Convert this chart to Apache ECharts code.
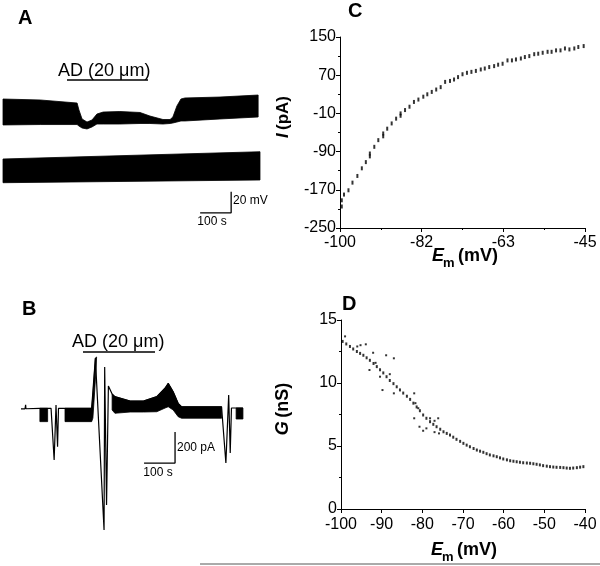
<!DOCTYPE html>
<html><head><meta charset="utf-8">
<script src="https://cdn.jsdelivr.net/npm/echarts@6/dist/echarts.min.js"></script>
<style>html,body{margin:0;padding:0;background:#fff}#c{width:600px;height:566px}</style>
</head><body><div id="c"></div>
<script>
// ---------- Panel A (time in s, potential in mV offset) ----------
const aTopT  = [0,120,239,245,255,271,287,303,323,377,442,474,516,539,548,561,574,587,700,823];
const aTopHi = [111.4,110.5,107.6,101,92.4,89.5,91.4,97.1,99,99.5,98.6,95.2,91.9,91.9,94.3,104.8,111.4,112.4,113.3,115.2];
const aTopLo = [86.7,87.1,87.1,85.7,83.8,82.9,84.8,87.6,87.6,87.6,88.1,88.1,87.6,88.1,88.6,89.5,90.5,90.5,92.4,94.3];
const aBotT  = [0,829];
const aBotHi = [54.3,61.2];
const aBotLo = [31.7,34.3];
const aScaleT = [636,736,736];
const aScaleV = [3,3,23];

// ---------- Panel B (time in s, current in pA) ----------
const bLineT = [58,71,73,74,119,155,165,171,176,179,200,286,298,302,326,328,334,340,352,361,410,453,496,523,533,549,565,576,705,706,719,728,733,737,774];
const bLineI = [-5,-5,20,-5,-3,-2,-335,20,-250,-2,-2,-2,323,329,-787,265,-626,142,90,73,45,45,73,129,159,105,30,8,8,0,-355,84,-290,0,0];
const bBand1T = [119,144], bBand1Hi = [-2,-2], bBand1Lo = [-88,-88];
const bBand2T = [200,286,290,298,302], bBand2Hi = [-2,-2,84,323,329], bBand2Lo = [-88,-88,-65,181,329];
const bBand3T = [352,361,410,453,496,523,533,549,565,576,705];
const bBand3Hi = [90,73,45,45,73,129,159,105,30,8,8];
const bBand3Lo = [-13,-34,-26,-26,-24,0,8,-13,-56,-66,-66];
const bBand4T = [752,774], bBand4Hi = [0,0], bBand4Lo = [-71,-71];
const bScaleT = [455,555,555];
const bScaleI = [-355,-355,-155];

// ---------- Panel C (I-V) ----------
const cEm = [-99.6,-99.6,-99.1,-98.1,-97.2,-96.1,-95.1,-94.2,-93.3,-93.3,-92.3,-91.4,-90.3,-90.3,-89.4,-88.4,-87.4,-86.4,-86.4,-85.4,-84.4,-83.4,-82.4,-81.3,-80.4,-79.4,-78.4,-77.4,-76.4,-75.3,-74.4,-73.5,-72.5,-71.5,-70.5,-69.5,-68.4,-67.5,-66.5,-65.4,-64.5,-63.5,-62.4,-61.4,-60.5,-59.4,-58.5,-57.5,-56.4,-55.5,-54.5,-53.4,-52.5,-51.5,-50.5,-49.5,-48.5,-47.4,-46.5,-45.3];
const cI  = [-192,-205,-180,-171,-155,-141,-125,-112,-94,-100,-80,-66,-52,-58,-42,-31,-21,-10,-15,-3,4,14,19,25,30,35,40,45,56,58,61,66,72,75,77,79,82,84,87,89,92,94,101,101,103,105,108,110,114,115,117,119,119,122,122,126,124,126,129,131];
const cXTicks = [-100,-81.667,-63.333,-45];
const cXMinor = [-90.833,-72.5,-54.167];
const cYTicks = [-250,-170,-90,-10,70,150];
const cYMinor = [-210,-130,-50,30,110];

// ---------- Panel D (G-V) ----------
const dEm = [-99.6,-98.7,-97.8,-97,-96.1,-95.3,-94.5,-93.7,-92.9,-92,-91.2,-90.4,-89.6,-88.8,-88,-87.1,-86.3,-85.5,-84.7,-83.8,-83,-82.2,-81.4,-80.6,-79.8,-79,-78.1,-77.3,-76.5,-75.6,-74.8,-74,-73.2,-72.4,-71.6,-70.7,-69.9,-69.1,-68.3,-67.4,-66.6,-65.8,-65,-64.2,-63.4,-62.5,-61.7,-60.9,-60.1,-59.2,-58.4,-57.6,-56.8,-56,-55.2,-54.3,-53.5,-52.7,-51.9,-51.1,-50.3,-49.4,-48.6,-47.8,-47,-46.1,-45.3,-44.5,-43.7,-42.9,-42,-41.2,-40.4];
const dG  = [13.3,13.1,12.9,12.7,12.5,12.35,12.2,12.0,11.8,11.55,11.3,11.05,10.8,10.5,10.2,9.95,9.7,9.45,9.2,8.95,8.7,8.4,8.1,7.8,7.46,7.2,6.93,6.72,6.53,6.33,6.13,6.0,5.87,5.7,5.53,5.37,5.21,5.07,4.94,4.8,4.68,4.59,4.5,4.39,4.29,4.22,4.15,4.06,3.97,3.9,3.83,3.79,3.75,3.71,3.67,3.65,3.63,3.59,3.55,3.5,3.44,3.4,3.36,3.33,3.31,3.3,3.28,3.25,3.23,3.25,3.28,3.32,3.36];
const dOutEm = [-99,-96,-95.2,-93.9,-92.1,-93,-91.5,-90.4,-88.9,-89.8,-87,-87,-88,-82,-82,-80.7,-79.8,-79,-78.1,-77,-76.1,-75.9,-77,-81,-81.7];
const dOutG  = [13.7,12.9,13.0,13.07,12.4,11.03,11.6,10.5,12.2,9.44,11.96,9.18,10.7,9.18,7.2,6.53,6.21,6.4,7.2,7.0,7.2,6.0,6.1,8.0,8.4];

const FONT = "'Liberation Sans', Arial, Helvetica, sans-serif";
const zip = (a, b) => a.map((v, i) => [v, b[i]]);

function band(axis, t, hi, lo) {
  return {
    type: 'custom', xAxisIndex: axis, yAxisIndex: axis, silent: true, animation: false,
    data: [[t[0], hi[0]]],
    renderItem: function (params, api) {
      const pts = [];
      for (let i = 0; i < t.length; i++) pts.push(api.coord([t[i], hi[i]]));
      for (let i = t.length - 1; i >= 0; i--) pts.push(api.coord([t[i], lo[i]]));
      return { type: 'polygon', shape: { points: pts }, style: { fill: '#000', stroke: '#000', lineWidth: 0.8 } };
    }
  };
}
function line(axis, t, v, w) {
  return { type: 'line', xAxisIndex: axis, yAxisIndex: axis, data: zip(t, v), symbol: 'none', clip: false,
    animation: false, silent: true, lineStyle: { color: '#000', width: w } };
}
const hiddenX = (g, min, max) => ({ gridIndex: g, type: 'value', min, max, show: false });
const hiddenY = (g, min, max) => ({ gridIndex: g, type: 'value', min, max, show: false });
const axLine = { show: true, onZero: false, lineStyle: { color: '#000', width: 1 } };
const noLine = { show: false, onZero: false };
const lbl = (m) => ({ color: '#000', fontSize: 16, fontFamily: FONT, margin: m });

const option = {
  backgroundColor: '#fff',
  animation: false,
  grid: [
    { left: 3, top: 90, width: 263.5, height: 126 },
    { left: 3, top: 338.25, width: 263.5, height: 201.5 },
    { left: 340, top: 37, width: 245, height: 191 },
    { left: 341, top: 320, width: 244, height: 189 }
  ],
  xAxis: [
    hiddenX(0, 0, 850),
    hiddenX(1, 0, 850),
    { gridIndex: 2, type: 'value', min: -100, max: -45, position: 'bottom', axisLine: axLine,
      axisTick: { show: true, length: 4, customValues: cXTicks, lineStyle: { color: '#000' } },
      axisLabel: Object.assign(lbl(7), { customValues: cXTicks, formatter: v => String(Math.round(v)) }),
      splitLine: { show: false } },
    { gridIndex: 3, type: 'value', min: -100, max: -40, interval: 10, position: 'bottom', axisLine: axLine,
      axisTick: { show: true, length: 4, lineStyle: { color: '#000' } },
      axisLabel: lbl(8), splitLine: { show: false } },
    { gridIndex: 2, type: 'value', min: -100, max: -45, position: 'bottom', axisLine: noLine,
      axisTick: { show: true, length: 2, customValues: cXMinor, lineStyle: { color: '#000' } },
      axisLabel: { show: false }, splitLine: { show: false } }
  ],
  yAxis: [
    hiddenY(0, 0, 120),
    hiddenY(1, -850, 450),
    { gridIndex: 2, type: 'value', min: -250, max: 150, position: 'left', axisLine: axLine,
      axisTick: { show: true, length: 4, customValues: cYTicks, lineStyle: { color: '#000' } },
      axisLabel: Object.assign(lbl(4), { customValues: cYTicks }), splitLine: { show: false } },
    { gridIndex: 3, type: 'value', min: 0, max: 15, interval: 5, position: 'left', axisLine: axLine,
      axisTick: { show: true, length: 4, lineStyle: { color: '#000' } },
      minorTick: { show: true, splitNumber: 2, length: 2, lineStyle: { color: '#000' } },
      axisLabel: lbl(4), splitLine: { show: false }, minorSplitLine: { show: false } },
    { gridIndex: 2, type: 'value', min: -250, max: 150, position: 'left', axisLine: noLine,
      axisTick: { show: true, length: 2, customValues: cYMinor, lineStyle: { color: '#000' } },
      axisLabel: { show: false }, splitLine: { show: false } }
  ],
  series: [
    band(0, aTopT, aTopHi, aTopLo),
    band(0, aBotT, aBotHi, aBotLo),
    line(0, aScaleT, aScaleV, 1.3),
    band(1, bBand1T, bBand1Hi, bBand1Lo),
    band(1, bBand2T, bBand2Hi, bBand2Lo),
    band(1, bBand3T, bBand3Hi, bBand3Lo),
    band(1, bBand4T, bBand4Hi, bBand4Lo),
    line(1, bLineT, bLineI, 1.2),
    line(1, bScaleT, bScaleI, 1.3),
    { type: 'scatter', xAxisIndex: 2, yAxisIndex: 2, data: zip(cEm, cI), symbol: 'rect', symbolSize: [2, 4],
      itemStyle: { color: '#000' }, silent: true },
    { type: 'scatter', xAxisIndex: 3, yAxisIndex: 3, data: zip(dEm, dG), symbol: 'rect', symbolSize: [2, 3],
      itemStyle: { color: '#000' }, silent: true },
    { type: 'scatter', xAxisIndex: 3, yAxisIndex: 3, data: zip(dOutEm, dOutG), symbol: 'rect', symbolSize: 2,
      itemStyle: { color: '#000' }, silent: true }
  ],
  graphic: [
    { type: 'text', x: 18, y: 18, style: { text: 'A', font: 'bold 20px ' + FONT, fill: '#000', verticalAlign: 'middle' } },
    { type: 'text', x: 22, y: 309, style: { text: 'B', font: 'bold 20px ' + FONT, fill: '#000', verticalAlign: 'middle' } },
    { type: 'text', x: 348, y: 11, style: { text: 'C', font: 'bold 20px ' + FONT, fill: '#000', verticalAlign: 'middle' } },
    { type: 'text', x: 342, y: 304, style: { text: 'D', font: 'bold 20px ' + FONT, fill: '#000', verticalAlign: 'middle' } },
    { type: 'text', x: 58, y: 71, style: { text: 'AD (20 μm)', font: '18px ' + FONT, fill: '#000', verticalAlign: 'middle' } },
    { type: 'line', shape: { x1: 67, y1: 80, x2: 148, y2: 80 }, style: { stroke: '#000', lineWidth: 1.5 } },
    { type: 'text', x: 72, y: 342, style: { text: 'AD (20 μm)', font: '18px ' + FONT, fill: '#000', verticalAlign: 'middle' } },
    { type: 'line', shape: { x1: 83, y1: 352, x2: 155, y2: 352 }, style: { stroke: '#000', lineWidth: 1.5 } },
    { type: 'text', x: 233, y: 201, style: { text: '20 mV', font: '12px ' + FONT, fill: '#000', verticalAlign: 'middle' } },
    { type: 'text', x: 212, y: 222, style: { text: '100 s', font: '12px ' + FONT, fill: '#000', align: 'center', verticalAlign: 'middle' } },
    { type: 'text', x: 177, y: 448, style: { text: '200 pA', font: '12px ' + FONT, fill: '#000', verticalAlign: 'middle' } },
    { type: 'text', x: 158, y: 473, style: { text: '100 s', font: '12px ' + FONT, fill: '#000', align: 'center', verticalAlign: 'middle' } },
    // C x title
    { type: 'text', x: 432, y: 256, style: { text: 'E', font: 'italic bold 18px ' + FONT, fill: '#000', verticalAlign: 'middle' } },
    { type: 'text', x: 443, y: 263, style: { text: 'm', font: 'bold 13px ' + FONT, fill: '#000', verticalAlign: 'middle' } },
    { type: 'text', x: 458, y: 256, style: { text: '(mV)', font: 'bold 18px ' + FONT, fill: '#000', verticalAlign: 'middle' } },
    // D x title
    { type: 'text', x: 431, y: 550, style: { text: 'E', font: 'italic bold 18px ' + FONT, fill: '#000', verticalAlign: 'middle' } },
    { type: 'text', x: 442, y: 557, style: { text: 'm', font: 'bold 13px ' + FONT, fill: '#000', verticalAlign: 'middle' } },
    { type: 'text', x: 457, y: 550, style: { text: '(mV)', font: 'bold 18px ' + FONT, fill: '#000', verticalAlign: 'middle' } },
    // y titles
    { type: 'text', x: 283, y: 117, rotation: Math.PI / 2,
      style: { text: '{i|I} {b|(pA)}', align: 'center', verticalAlign: 'middle', fill: '#000',
        rich: { i: { font: 'italic bold 17px ' + FONT, fill: '#000' }, b: { font: 'bold 17px ' + FONT, fill: '#000' } } } },
    { type: 'text', x: 283, y: 409, rotation: Math.PI / 2,
      style: { text: '{i|G} {b|(nS)}', align: 'center', verticalAlign: 'middle', fill: '#000',
        rich: { i: { font: 'italic bold 18px ' + FONT, fill: '#000' }, b: { font: 'bold 18px ' + FONT, fill: '#000' } } } },
    { type: 'line', shape: { x1: 200, y1: 564, x2: 600, y2: 564 }, style: { stroke: '#aaa', lineWidth: 2 } }
  ]
};
echarts.init(document.getElementById('c'), null, { renderer: 'canvas' }).setOption(option);
</script></body></html>
